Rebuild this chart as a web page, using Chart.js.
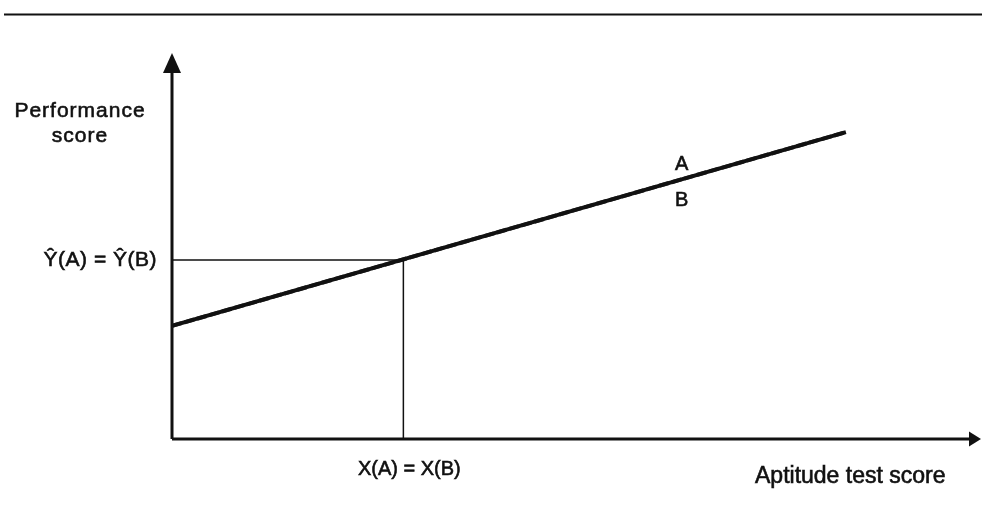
<!DOCTYPE html>
<html><head><meta charset="utf-8">
<script src="https://cdn.jsdelivr.net/npm/chart.js@4/dist/chart.umd.min.js"></script>
<style>html,body{margin:0;padding:0;background:#fff}#wrap{width:982px;height:525px;position:relative}</style>
</head><body><div id="wrap"><canvas id="c" width="982" height="525"></canvas></div>
<script>
// ---- data (arbitrary units) ----
const seriesNames = ["A", "B"];
const aptitudeX = [0, 83.3];        // x extent of the regression lines
const performanceA = [29.3, 79.5];  // line A
const performanceB = [29.3, 79.5];  // line B (identical)
const predictedX = 28.6;            // X(A) = X(B)
const predictedY = 46.4;            // Ŷ(A) = Ŷ(B)
const xRange = [0, 100];
const yRange = [0, 100];
const yAxisTitle = ["Performance", "score"];
const xAxisTitle = "Aptitude test score";
const refYLabel = "\u0176(A) = \u0176(B)";
const refXLabel = "X(A) = X(B)";

const FONT = '"Liberation Sans", Arial, Helvetica, sans-serif';
const INK = '#111';

const toPts = (xs, ys) => xs.map((x, i) => ({x: x, y: ys[i]}));

function label(ctx, text, x, y) {
  ctx.fillText(text, x, y);
  ctx.strokeText(text, x, y);
}

const decor = {
  id: 'decor',
  beforeDatasetsDraw(chart) {
    const ctx = chart.ctx, xs = chart.scales.x, ys = chart.scales.y;
    const x0 = xs.getPixelForValue(xRange[0]), x1 = xs.getPixelForValue(xRange[1]);
    const y0 = ys.getPixelForValue(yRange[0]), y1 = ys.getPixelForValue(yRange[1]);
    ctx.save();
    ctx.strokeStyle = INK; ctx.fillStyle = INK;
    // top rule
    ctx.lineWidth = 2;
    ctx.beginPath(); ctx.moveTo(4, 14.5); ctx.lineTo(chart.width, 14.5); ctx.stroke();
    // axes
    ctx.lineWidth = 3;
    ctx.beginPath(); ctx.moveTo(x0, y0); ctx.lineTo(x0, y1 + 18); ctx.stroke();
    ctx.beginPath(); ctx.moveTo(x0, y0); ctx.lineTo(x1 - 10, y0); ctx.stroke();
    // arrow heads
    ctx.beginPath(); ctx.moveTo(x0, y1); ctx.lineTo(x0 - 9, y1 + 20); ctx.lineTo(x0 + 9, y1 + 20); ctx.closePath(); ctx.fill();
    ctx.beginPath(); ctx.moveTo(x1, y0); ctx.lineTo(x1 - 12, y0 - 7.5); ctx.lineTo(x1 - 12, y0 + 7.5); ctx.closePath(); ctx.fill();
    ctx.restore();
  },
  afterDraw(chart) {
    const ctx = chart.ctx, xs = chart.scales.x, ys = chart.scales.y;
    const x0 = xs.getPixelForValue(xRange[0]);
    const y0 = ys.getPixelForValue(yRange[0]);
    const y1 = ys.getPixelForValue(yRange[1]);
    ctx.save();
    ctx.fillStyle = INK;
    ctx.strokeStyle = INK;
    ctx.lineWidth = 0.6;
    ctx.textBaseline = 'middle';
    // y title
    ctx.font = '21px ' + FONT;
    ctx.textAlign = 'center';
    ctx.letterSpacing = '1px';
    label(ctx, yAxisTitle[0], x0 - 92, y1 + 58);
    label(ctx, yAxisTitle[1], x0 - 92, y1 + 83);
    // reference labels
    ctx.letterSpacing = '0.5px';
    ctx.font = '21px ' + FONT;
    ctx.textAlign = 'right';
    label(ctx, refYLabel, x0 - 15, ys.getPixelForValue(predictedY));
    ctx.letterSpacing = '0px';
    ctx.font = '20px ' + FONT;
    ctx.textAlign = 'center';
    label(ctx, refXLabel, xs.getPixelForValue(predictedX) + 6, y0 + 30);
    // x title
    ctx.font = '23px ' + FONT;
    ctx.textAlign = 'left';
    label(ctx, xAxisTitle, 755, y0 + 38);
    // series labels
    const lx = 63;
    const ly = ys.getPixelForValue(performanceA[0] + (performanceA[1] - performanceA[0]) * (lx - aptitudeX[0]) / (aptitudeX[1] - aptitudeX[0]));
    ctx.font = '20px ' + FONT;
    ctx.textAlign = 'center';
    label(ctx, seriesNames[0], xs.getPixelForValue(lx), ly - 15);
    label(ctx, seriesNames[1], xs.getPixelForValue(lx), ly + 21);
    ctx.restore();
  }
};

new Chart(document.getElementById('c'), {
  type: 'scatter',
  data: {
    datasets: [
      { label: 'ref', data: [{x: xRange[0], y: predictedY}, {x: predictedX, y: predictedY}, {x: predictedX, y: yRange[0]}],
        showLine: true, borderColor: INK, borderWidth: 1.5, pointRadius: 0, fill: false, tension: 0 },
      { label: seriesNames[0], data: toPts(aptitudeX, performanceA), showLine: true,
        borderColor: INK, borderWidth: 4, pointRadius: 0, fill: false, tension: 0 },
      { label: seriesNames[1], data: toPts(aptitudeX, performanceB), showLine: true,
        borderColor: '#333', borderWidth: 4, borderDash: [10, 3], pointRadius: 0, fill: false, tension: 0 }
    ]
  },
  options: {
    responsive: false,
    animation: false,
    layout: { padding: { left: 172, right: 1, top: 53, bottom: 86 } },
    plugins: { legend: { display: false }, tooltip: { enabled: false } },
    scales: {
      x: { type: 'linear', min: xRange[0], max: xRange[1], display: false },
      y: { type: 'linear', min: yRange[0], max: yRange[1], display: false }
    }
  },
  plugins: [decor]
});
</script>
</body></html>
